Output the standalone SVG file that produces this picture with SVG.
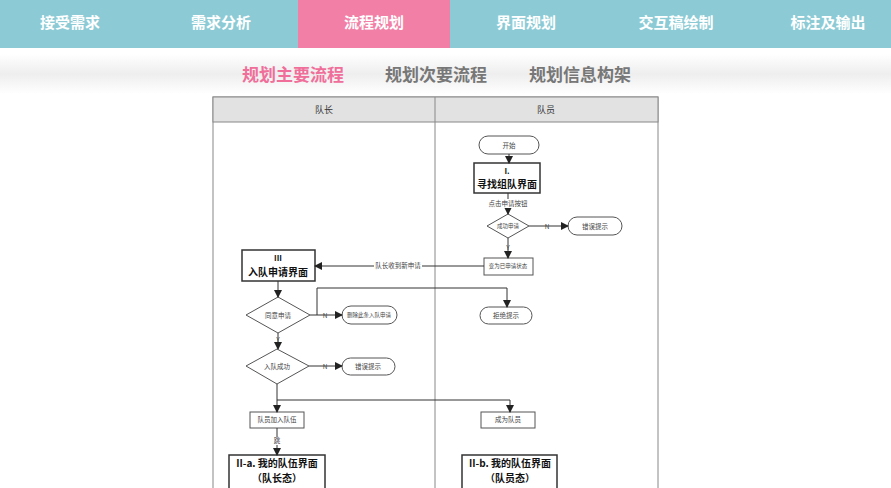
<svg xmlns="http://www.w3.org/2000/svg" width="891" height="488" viewBox="0 0 891 488">
<defs>
<marker id="ar" markerWidth="8" markerHeight="8" refX="7" refY="4" orient="auto" markerUnits="userSpaceOnUse"><path d="M0,0 L8,4 L0,8 z" fill="#222"/></marker>
<linearGradient id="band" x1="0" y1="0" x2="0" y2="1"><stop offset="0" stop-color="#fff"/><stop offset="0.5" stop-color="#eeeeee"/><stop offset="1" stop-color="#fff"/></linearGradient>
</defs>
<style>
.tab{font-family:"Noto Sans CJK SC",sans-serif;font-size:15px;font-weight:bold;fill:#fff;text-anchor:middle}
.sub{font-family:"Noto Sans CJK SC",sans-serif;font-size:17px;font-weight:bold;fill:#777;text-anchor:middle}
.t{font-family:"Noto Sans CJK SC",sans-serif;font-size:6.5px;fill:#444;text-anchor:middle}
.u{font-family:"Noto Sans CJK SC",sans-serif;font-size:5.5px;fill:#444;text-anchor:middle}
.b{font-family:"Noto Sans CJK SC",sans-serif;font-size:10px;font-weight:bold;fill:#111;text-anchor:middle}
.h{font-family:"Noto Sans CJK SC",sans-serif;font-size:9px;fill:#333;text-anchor:middle}
.s{fill:#fff;stroke:#555;stroke-width:1}
.k{fill:#fff;stroke:#333;stroke-width:1.5}
.c{fill:none;stroke:#333;stroke-width:1}
</style>
<rect width="891" height="488" fill="#fff"/>
<rect x="0" y="0" width="891" height="48" fill="#8ccbd5"/>
<rect x="298" y="0" width="152" height="48" fill="#f27fa6"/>
<text class="tab" x="70" y="28">接受需求</text>
<text class="tab" x="221" y="28">需求分析</text>
<text class="tab" x="374" y="28">流程规划</text>
<text class="tab" x="526" y="28">界面规划</text>
<text class="tab" x="676" y="28">交互稿绘制</text>
<text class="tab" x="828" y="28">标注及输出</text>
<rect x="0" y="54" width="891" height="40" fill="url(#band)"/>
<text class="sub" x="293" y="81" style="fill:#f06e9a">规划主要流程</text>
<text class="sub" x="436" y="81">规划次要流程</text>
<text class="sub" x="580" y="81">规划信息构架</text>
<g id="pool">
<rect x="213" y="97" width="445" height="395" fill="#fff" stroke="#888"/>
<rect x="213" y="97" width="445" height="25" fill="#e2e2e2" stroke="#888"/>
<line x1="435" y1="97" x2="435" y2="488" stroke="#888"/>
<text class="h" x="324" y="113">队长</text>
<text class="h" x="546" y="113">队员</text>
</g>
<g id="start"><rect class="s" x="479" y="136" width="60" height="18" rx="9"/><text class="t" x="509" y="148">开始</text></g>
<g id="n1"><rect class="k" x="474" y="163" width="66" height="30"/><text class="b" x="507" y="174" style="font-size:8px">I.</text><text class="b" x="507" y="188">寻找组队界面</text></g>
<g id="d1"><path class="s" d="M487,226 L508,214 L529,226 L508,238 z"/><text class="u" x="508" y="228">成功申请</text></g>
<g id="e1"><rect class="s" x="568" y="217" width="54" height="18" rx="9"/><text class="t" x="595" y="229">错误提示</text></g>
<g id="n2"><rect class="s" x="484" y="258" width="49" height="17"/><text class="u" x="508" y="268">变为已申请状态</text></g>
<g id="n3"><rect class="k" x="242" y="250" width="73" height="31"/><text class="b" x="278" y="261" style="font-size:8px">III</text><text class="b" x="278" y="276">入队申请界面</text></g>
<g id="d2"><path class="s" d="M246,315 L278,297 L310,315 L278,333 z"/><text class="t" x="278" y="318">同意申请</text></g>
<g id="e2"><rect class="s" x="342" y="306" width="55" height="18" rx="9"/><text class="u" x="369" y="317">删除此条入队申请</text></g>
<g id="e3"><rect class="s" x="480" y="307" width="52" height="17" rx="8.5"/><text class="t" x="506" y="318">拒绝提示</text></g>
<g id="d3"><path class="s" d="M246,366 L277,349 L309,366 L277,384 z"/><text class="t" x="277" y="369">入队成功</text></g>
<g id="e4"><rect class="s" x="342" y="358" width="53" height="17" rx="8.5"/><text class="t" x="368" y="369">错误提示</text></g>
<g id="n4"><rect class="s" x="250" y="412" width="54" height="16"/><text class="t" x="277" y="422">队员加入队伍</text></g>
<g id="n5"><rect class="s" x="481" y="412" width="54" height="16"/><text class="t" x="508" y="422">成为队员</text></g>
<g id="n6"><rect class="k" x="229" y="455" width="96" height="40"/><text class="b" x="277" y="467">II-a. 我的队伍界面</text><text class="b" x="277" y="482">（队长态）</text></g>
<g id="n7"><rect class="k" x="462" y="455" width="95" height="40"/><text class="b" x="510" y="467">II-b. 我的队伍界面</text><text class="b" x="510" y="482">（队员态）</text></g>
<g id="connectors">
<line class="c" x1="509" y1="154" x2="509" y2="163" marker-end="url(#ar)"/>
<line class="c" x1="508" y1="193" x2="508" y2="214" marker-end="url(#ar)"/>
<rect x="486" y="199" width="44" height="9" fill="#fff"/><text class="t" x="508" y="206">点击申请按钮</text>
<line class="c" x1="529" y1="226" x2="568" y2="226" marker-end="url(#ar)"/>
<text class="t" x="547" y="229">N</text>
<line class="c" x1="508" y1="238" x2="508" y2="258" marker-end="url(#ar)"/>
<text class="t" x="508" y="250">Y</text>
<line class="c" x1="484" y1="266" x2="315" y2="266" marker-end="url(#ar)"/>
<rect x="374" y="261" width="48" height="8" fill="#fff"/><text class="t" x="398" y="268">队长收到新申请</text>
<line class="c" x1="278" y1="281" x2="278" y2="297" marker-end="url(#ar)"/>
<line class="c" x1="310" y1="315" x2="342" y2="315" marker-end="url(#ar)"/>
<text class="t" x="325" y="318">N</text>
<path class="c" d="M317,315 L317,288 L507,288 L507,307" marker-end="url(#ar)"/>
<line class="c" x1="278" y1="333" x2="278" y2="349" marker-end="url(#ar)"/>
<text class="t" x="278" y="342">Y</text>
<line class="c" x1="309" y1="366" x2="342" y2="366" marker-end="url(#ar)"/>
<text class="t" x="325" y="369">N</text>
<line class="c" x1="277" y1="384" x2="277" y2="412" marker-end="url(#ar)"/>
<path class="c" d="M277,400 L510,400 L510,412" marker-end="url(#ar)"/>
<line class="c" x1="277" y1="428" x2="277" y2="455" marker-end="url(#ar)"/>
<rect x="272" y="437" width="10" height="8" fill="#fff"/><text class="t" x="277" y="443">跳</text>
</g>
</svg>
